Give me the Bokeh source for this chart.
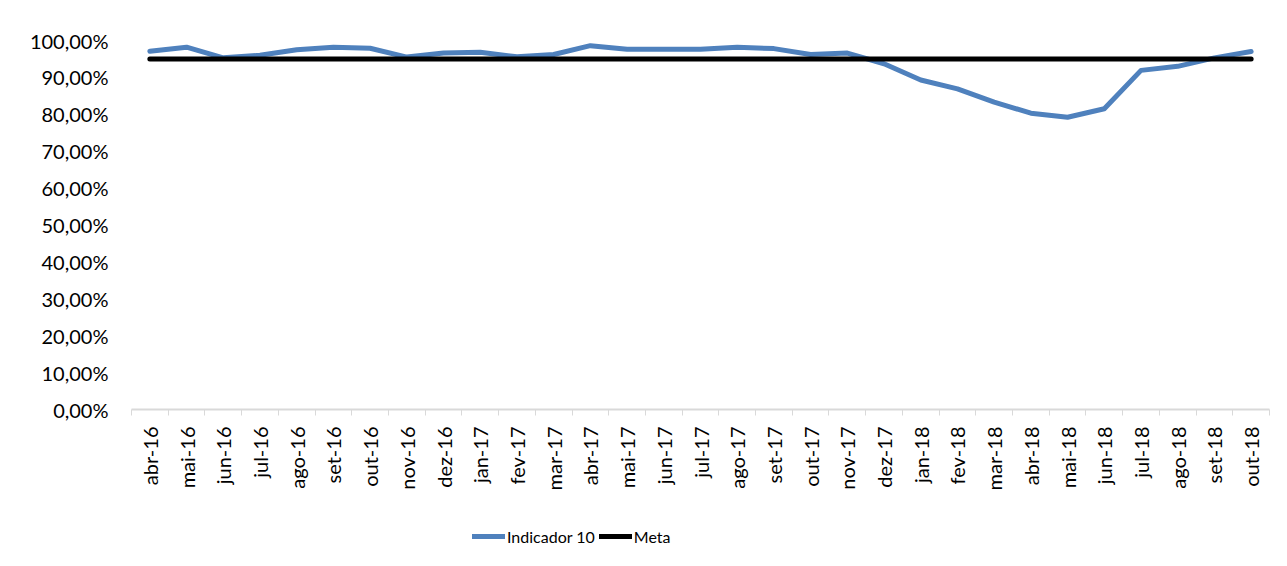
import math
from bokeh.plotting import figure
from bokeh.layouts import column
from bokeh.models import (FixedTicker, CustomJSTickFormatter, Range1d, Legend, LegendItem,
                          BoxAnnotation)
from bokeh.embed import file_html
from bokeh.resources import INLINE

months = ["abr-16", "mai-16", "jun-16", "jul-16", "ago-16", "set-16", "out-16", "nov-16",
          "dez-16", "jan-17", "fev-17", "mar-17", "abr-17", "mai-17", "jun-17", "jul-17",
          "ago-17", "set-17", "out-17", "nov-17", "dez-17", "jan-18", "fev-18", "mar-18",
          "abr-18", "mai-18", "jun-18", "jul-18", "ago-18", "set-18", "out-18"]
indicador = [97.1, 98.2, 95.3, 96.0, 97.5, 98.2, 97.9, 95.5,
             96.6, 96.8, 95.6, 96.2, 98.6, 97.6, 97.6, 97.6,
             98.2, 97.8, 96.2, 96.6, 93.7, 89.3, 86.9, 83.3,
             80.3, 79.2, 81.5, 91.9, 93.0, 95.3, 97.0]
meta = [95.0] * len(months)
y_ticks = [0, 10, 20, 30, 40, 50, 60, 70, 80, 90, 100]
series_names = ["Indicador 10", "Meta"]

n = len(months)
xs = [i + 0.5 for i in range(n)]
ind_frac = [v / 100 for v in indicador]
meta_frac = [v / 100 for v in meta]

FONT = "Lato"
BLUE = "#4F81BD"

p = figure(width=1287, height=510, output_backend="svg", toolbar_location=None,
           x_range=Range1d(0, n), y_range=Range1d(0, 1.0),
           min_border_left=131, min_border_right=18, min_border_top=40, min_border_bottom=101)
p.outline_line_color = None
p.xgrid.grid_line_color = None
p.ygrid.grid_line_color = None

# chart-area border (top and left edges visible, as in the reference)
p.add_layout(BoxAnnotation(left=7, right=1400, top=10, bottom=700,
                           left_units="canvas", right_units="canvas",
                           top_units="canvas", bottom_units="canvas",
                           fill_alpha=0, line_color="#d9d9d9", line_width=1.5,
                           level="underlay"))

p.line(xs, ind_frac, line_color=BLUE, line_width=5, line_join="round", line_cap="round")
p.line(xs, meta_frac, line_color="#000000", line_width=5, line_cap="round")

# y axis
p.yaxis.ticker = FixedTicker(ticks=[t / 100 for t in y_ticks], minor_ticks=[])
p.yaxis.formatter = CustomJSTickFormatter(code="return (tick*100).toFixed(2).replace('.', ',') + '%';")
p.yaxis.axis_line_color = None
p.yaxis.major_tick_line_color = None
p.yaxis.major_tick_out = 0
p.yaxis.major_tick_in = 0
p.yaxis.minor_tick_line_color = None
p.yaxis.major_label_standoff = 23
p.yaxis.major_label_text_font = FONT
p.yaxis.major_label_text_font_size = "20px"
p.yaxis.major_label_text_color = "#000000"

# x axis
p.xaxis.ticker = FixedTicker(ticks=xs, minor_ticks=list(range(n + 1)))
p.xaxis.formatter = CustomJSTickFormatter(args=dict(labels=months),
                                          code="return labels[Math.floor(tick)] || '';")
p.xaxis.major_label_orientation = math.pi / 2
p.xaxis.axis_line_color = "#d9d9d9"
p.xaxis.axis_line_width = 2
p.xaxis.major_tick_line_color = None
p.xaxis.major_tick_out = 0
p.xaxis.major_tick_in = 0
p.xaxis.minor_tick_line_color = "#d9d9d9"
p.xaxis.minor_tick_line_width = 1
p.xaxis.minor_tick_out = 6
p.xaxis.minor_tick_in = 0
p.xaxis.major_label_standoff = 11
p.xaxis.major_label_text_font = FONT
p.xaxis.major_label_text_font_size = "20px"
p.xaxis.major_label_text_color = "#000000"

# legend strip (same series drawn out of view, only their legend entries show)
p2 = figure(width=1287, height=56, output_backend="svg", toolbar_location=None,
            x_range=Range1d(0, n), y_range=Range1d(5, 6),
            x_axis_type=None, y_axis_type=None,
            min_border_left=0, min_border_right=0, min_border_top=0, min_border_bottom=0)
p2.outline_line_color = None
p2.xgrid.grid_line_color = None
p2.ygrid.grid_line_color = None
p2.add_layout(BoxAnnotation(left=7, right=1400, top=-20, bottom=200,
                            left_units="canvas", right_units="canvas",
                            top_units="canvas", bottom_units="canvas",
                            fill_alpha=0, line_color="#d9d9d9", line_width=1.5,
                            level="underlay"))
l1 = p2.line(xs, ind_frac, line_color=BLUE, line_width=5, line_cap="round")
l2 = p2.line(xs, meta_frac, line_color="#000000", line_width=5, line_cap="round")

legend = Legend(items=[LegendItem(label=series_names[0], renderers=[l1]),
                       LegendItem(label=series_names[1], renderers=[l2])],
                orientation="horizontal", location=(341, 20))
legend.border_line_color = None
legend.background_fill_alpha = 0
legend.label_text_font = FONT
legend.label_text_font_size = "16px"
legend.label_text_color = "#000000"
legend.glyph_width = 33
legend.label_standoff = 2
legend.spacing = 4
legend.padding = 4
legend.margin = 0
p2.add_layout(legend, "center")

layout = column(p, p2, spacing=0)
open("out.html", "w").write(file_html(layout, INLINE))
